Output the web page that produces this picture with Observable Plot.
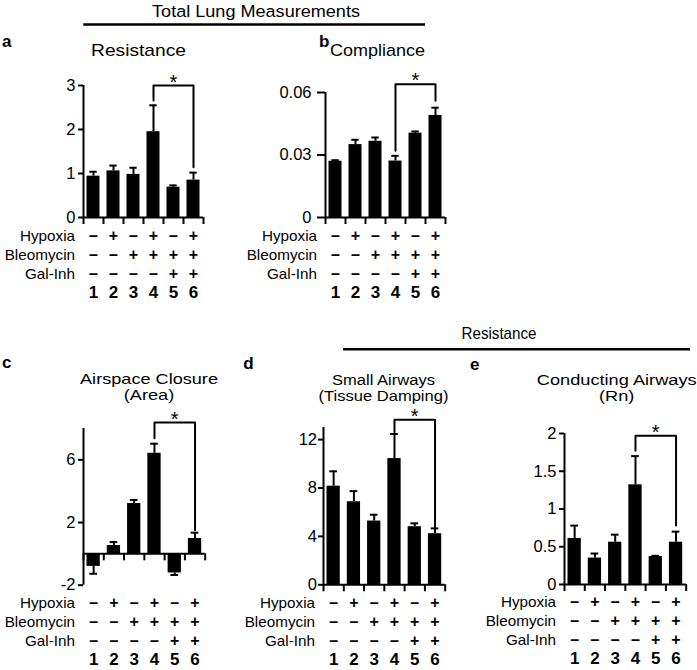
<!DOCTYPE html>
<html><head><meta charset="utf-8">
<script src="https://cdn.jsdelivr.net/npm/d3@7"></script>
<script src="https://cdn.jsdelivr.net/npm/@observablehq/plot@0.6"></script>
<style>
html,body{margin:0;padding:0;background:#fff;}
#fig{position:relative;width:697px;height:670px;overflow:hidden;background:#fff;font-family:"Liberation Sans",Arial,Helvetica,sans-serif;}
#fig svg{position:absolute;margin:0;}
</style></head><body><div id="fig"></div>
<script>
// ---- data ----
const groups = [1, 2, 3, 4, 5, 6];
const rowLabels = ["Hypoxia", "Bleomycin", "Gal-Inh"];
const hypoxia   = ["–", "+", "–", "+", "–", "+"];
const bleomycin = ["–", "–", "+", "+", "+", "+"];
const galInh    = ["–", "–", "–", "–", "+", "+"];
const bracketGroups = [4, 4, 6, 6];

// a: Resistance (cmH2O.s/mL)
const aMean = [0.94, 1.06, 0.98, 1.95, 0.69, 0.85];
const aErr  = [1.04, 1.18, 1.13, 2.55, 0.73, 1.02];
const aBracket = [2.66, 3.0, 3.0, 1.14];
const aTicks = [0, 1, 2, 3];
const aTickLabels = ["0", "1", "2", "3"];

// b: Compliance (mL/cmH2O)
const bMean = [0.027, 0.035, 0.0366, 0.0271, 0.0405, 0.049];
const bErr  = [0.0275, 0.0373, 0.0384, 0.0296, 0.0413, 0.0527];
const bBracket = [0.032, 0.064, 0.064, 0.056];
const bTicks = [0, 0.03, 0.06];
const bTickLabels = ["0", "0.03", "0.06"];

// c: Airspace Closure (Area) (mL.cmH2O)
const cMean = [-0.8, 0.53, 3.21, 6.42, -1.22, 0.98];
const cErr  = [-1.27, 0.75, 3.44, 7.03, -1.35, 1.35];
const cBracket = [7.38, 8.38, 8.38, 1.5];
const cTicks = [-2, 2, 6];
const cTickLabels = ["-2", "2", "6"];

// d: Small Airways (Tissue Damping) (cmH2O/mL)
const dMean = [8.15, 6.86, 5.27, 10.43, 4.8, 4.22];
const dErr  = [9.38, 7.74, 5.79, 12.46, 5.08, 4.66];
const dBracket = [12.6, 13.64, 13.64, 4.77];
const dTicks = [0, 4, 8, 12];
const dTickLabels = ["0", "4", "8", "12"];

// e: Conducting Airways (Rn) (cmH2O.s/mL)
const eMean = [0.61, 0.35, 0.56, 1.32, 0.37, 0.56];
const eErr  = [0.78, 0.41, 0.66, 1.70, 0.38, 0.70];
const eBracket = [1.77, 1.97, 1.97, 0.78];
const eTicks = [0, 0.5, 1, 1.5, 2];
const eTickLabels = ["0", "0.5", "1", "1.5", "2"];

// ---- layout ----
const FONT = '"Liberation Sans", Arial, Helvetica, sans-serif';
const panels = [
  {mean: aMean, err: aErr, bracket: aBracket, ticks: aTicks, tickLabels: aTickLabels, domain: [0, 3],     L: 83.3, R: 203.3, T: 85,    B: 217,   tickLen: 5, gap: 8},
  {mean: bMean, err: bErr, bracket: bBracket, ticks: bTicks, tickLabels: bTickLabels, domain: [0, 0.06],  L: 325,  R: 445,   T: 91.7,  B: 216.7, tickLen: 8, gap: 14},
  {mean: cMean, err: cErr, bracket: cBracket, ticks: cTicks, tickLabels: cTickLabels, domain: [-2, 8],    L: 83.3, R: 205,   T: 428.3, B: 585,   tickLen: 5, gap: 8},
  {mean: dMean, err: dErr, bracket: dBracket, ticks: dTicks, tickLabels: dTickLabels, domain: [0, 13],    L: 323.3,R: 445,   T: 426.7, B: 584,   tickLen: 5, gap: 6.5},
  {mean: eMean, err: eErr, bracket: eBracket, ticks: eTicks, tickLabels: eTickLabels, domain: [0, 2],     L: 564,  R: 685.7, T: 433.3, B: 584.3, tickLen: 5, gap: 8}
];
const rowDy = [23, 42, 61];
const numDy = 80;
const fig = document.getElementById("fig");

function drawPanel(cfg) {
  const ml = 85, mr = 10, mt = 42, mb = 92;
  const W = ml + (cfg.R - cfg.L) + mr, H = mt + (cfg.B - cfg.T) + mb;
  const data = groups.map((g, i) => ({g, mean: cfg.mean[i], err: cfg.err[i]}));
  const edges = d3.range(0.5, 7, 1);
  const bracket = bracketGroups.map((g, i) => ({g, y: cfg.bracket[i]}));
  const star = [{g: (bracketGroups[1] + bracketGroups[2]) / 2, y: cfg.bracket[1]}];
  const rows = [hypoxia, bleomycin, galInh];
  const marks = [
    Plot.rect(data, {x1: d => d.g - 0.5, x2: d => d.g + 0.5, y1: 0, y2: "mean", insetLeft: 3.5, insetRight: 3.5, fill: "#000"}),
    Plot.ruleX(data, {x: "g", y1: "mean", y2: "err", stroke: "#000", strokeWidth: 2}),
    Plot.ruleY(data, {y: "err", x1: d => d.g - 0.5, x2: d => d.g + 0.5, insetLeft: 6.3, insetRight: 6.3, stroke: "#000", strokeWidth: 2}),
    Plot.ruleX([0.5], {y1: cfg.domain[0], y2: cfg.domain[1], stroke: "#000", strokeWidth: 2}),
    Plot.ruleY([0], {x1: 0.5, x2: 6.5, stroke: "#000", strokeWidth: 2}),
    Plot.ruleX(edges, {x: d => d, y1: 0, y2: 0, insetBottom: -7, stroke: "#000", strokeWidth: 2}),
    Plot.ruleY(cfg.ticks, {y: d => d, x1: 0.5, x2: 0.5, insetLeft: -cfg.tickLen, stroke: "#000", strokeWidth: 2}),
    Plot.text(cfg.ticks, {y: d => d, text: (d, i) => cfg.tickLabels[i], frameAnchor: "left", textAnchor: "end", dx: -cfg.gap, fontSize: 16.5, fill: "#000"}),
    Plot.line(bracket, {x: "g", y: "y", stroke: "#000", strokeWidth: 2}),
    Plot.text(star, {x: "g", y: "y", text: () => "*", fontSize: 20, lineAnchor: "bottom", dy: 3, fill: "#000"})
  ];
  rows.forEach((row, r) => {
    marks.push(Plot.text(groups, {x: d => d, text: (d, i) => row[i], frameAnchor: "bottom", dy: rowDy[r], fontSize: 16, fontWeight: "bold", fill: "#000"}));
    marks.push(Plot.text([rowLabels[r]], {frameAnchor: "bottom-left", textAnchor: "end", dx: -8.5, dy: rowDy[r], fontSize: 14, fill: "#000"}));
  });
  marks.push(Plot.text(groups, {x: d => d, text: d => String(d), frameAnchor: "bottom", dy: numDy, fontSize: 17, fontWeight: "bold", fill: "#000"}));

  const svg = Plot.plot({
    width: W, height: H,
    marginLeft: ml, marginRight: mr, marginTop: mt, marginBottom: mb,
    x: {type: "linear", domain: [0.5, 6.5], axis: null},
    y: {type: "linear", domain: cfg.domain, axis: null},
    style: {background: "transparent", fontFamily: FONT, overflow: "visible", color: "#000"},
    marks
  });
  svg.style.left = (cfg.L - ml) + "px";
  svg.style.top = (cfg.T - mt) + "px";
  svg.style.maxWidth = "none";
  fig.appendChild(svg);
  svg.querySelectorAll("text").forEach(t => {
    if (rowLabels.includes(t.textContent)) {
      t.setAttribute("transform", (t.getAttribute("transform") || "") + " scale(1.09,1)");
    }
  });
}
panels.forEach(drawPanel);

// ---- titles & headers ----
const ov = d3.select(fig).append("svg").attr("width", 697).attr("height", 670)
  .style("left", "0px").style("top", "0px").style("font-family", FONT);
const titles = [
  {lines: ["Total Lung Measurements"], x: 256, y: 16.5, size: 16.5, w: 208},
  {lines: ["Resistance"], x: 138.5, y: 56, size: 16, w: 95},
  {lines: ["Compliance"], x: 377.5, y: 55.5, size: 16, w: 95},
  {lines: ["Resistance"], x: 499, y: 338.5, size: 16, w: 75},
  {lines: ["Airspace Closure", "(Area)"], x: 149, y: 384, size: 14.5, w: 138},
  {lines: ["Small Airways", "(Tissue Damping)"], x: 383.5, y: 385, size: 14.5, w: 103},
  {lines: ["Conducting Airways", "(Rn)"], x: 616.7, y: 385, size: 14.5, w: 160},
  {lines: ["a"], x: 2, y: 47, size: 17, bold: true, anchor: "start"},
  {lines: ["b"], x: 319, y: 46.7, size: 17, bold: true, anchor: "start"},
  {lines: ["c"], x: 2, y: 368, size: 17, bold: true, anchor: "start"},
  {lines: ["d"], x: 243.3, y: 369.3, size: 17, bold: true, anchor: "start"},
  {lines: ["e"], x: 470, y: 370, size: 17, bold: true, anchor: "start"}
];
const lineStep = 16.5;
titles.forEach(t => {
  const el = ov.append("text").attr("text-anchor", t.anchor || "middle")
    .attr("font-size", t.size).attr("font-weight", t.bold ? "bold" : null)
    .attr("fill", "#000");
  const spans = t.lines.map((s, i) => el.append("tspan").attr("x", 0).attr("dy", i === 0 ? 0 : lineStep).text(s));
  const len = spans[0].node().getComputedTextLength();
  const s = t.w && len > 0 ? t.w / len : 1;
  el.attr("transform", `translate(${t.x},${t.y}) scale(${s},1)`);
});
const headerLines = [
  {x1: 83.3, x2: 425, y: 24.5},
  {x1: 343, x2: 690, y: 349.3}
];
headerLines.forEach(l => ov.append("line").attr("x1", l.x1).attr("x2", l.x2)
  .attr("y1", l.y).attr("y2", l.y).attr("stroke", "#000").attr("stroke-width", 2.5));
</script>
</body></html>
